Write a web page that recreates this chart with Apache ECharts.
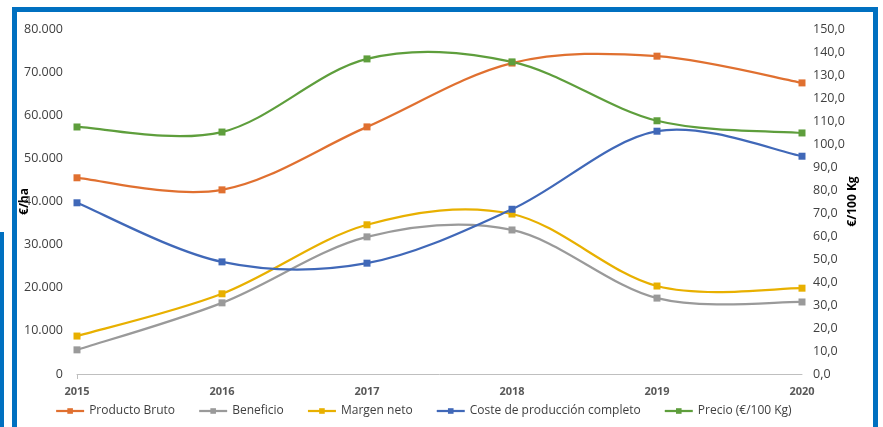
<!DOCTYPE html>
<html>
<head>
<meta charset="utf-8">
<script src="https://cdn.jsdelivr.net/npm/echarts@6/dist/echarts.min.js"></script>
<style>
html,body{margin:0;padding:0;background:#fff;}
#c{width:883px;height:427px;}
</style>
</head>
<body>
<div id="c"></div>
<script>
var years = ['2015','2016','2017','2018','2019','2020'];
var productoBruto = [45500, 42700, 57300, 72100, 73700, 67500];
var beneficio = [5600, 16500, 31800, 33400, 17600, 16700];
var margenNeto = [8800, 18600, 34600, 37100, 20400, 19900];
var costeProduccion = [39700, 26000, 25700, 38200, 56300, 50500];
var precio = [107.4, 105.2, 137.0, 135.7, 110.1, 104.8];

var FONT = 'Open Sans';
var chart = echarts.init(document.getElementById('c'), null, {renderer:'canvas'});

var defs = [
  {name: 'Producto Bruto', data: productoBruto, color: '#E07030', axis: 0},
  {name: 'Beneficio', data: beneficio, color: '#9A9A9A', axis: 0},
  {name: 'Margen neto', data: margenNeto, color: '#E8B000', axis: 0},
  {name: 'Coste de producción completo', data: costeProduccion, color: '#4068B8', axis: 0},
  {name: 'Precio (€/100 Kg)', data: precio, color: '#5E9E3C', axis: 1}
];

// Excel-style smoothed curve (Catmull-Rom Bezier segments), positions from the axes via api.coord
function curveSeries(d){
  var arr = d.data;
  return {
    name: d.name + '#curve', type: 'custom', yAxisIndex: d.axis, z: 2,
    silent: true,
    data: arr.map(function(v, i){ return [i, v]; }),
    encode: {x: 0, y: 1},
    renderItem: function(params, api){
      var i = params.dataIndex, n = arr.length;
      if (i >= n - 1) return null;
      var p = function(k){ k = Math.max(0, Math.min(n - 1, k)); return api.coord([k, arr[k]]); };
      var p0 = p(i - 1), p1 = p(i), p2 = p(i + 1), p3 = p(i + 2);
      return {
        type: 'bezierCurve',
        shape: {
          x1: p1[0], y1: p1[1], x2: p2[0], y2: p2[1],
          cpx1: p1[0] + (p2[0] - p0[0]) / 6, cpy1: p1[1] + (p2[1] - p0[1]) / 6,
          cpx2: p2[0] - (p3[0] - p1[0]) / 6, cpy2: p2[1] - (p3[1] - p1[1]) / 6
        },
        style: {stroke: d.color, lineWidth: 2.25, fill: null}
      };
    }
  };
}

function markerSeries(d){
  return {
    name: d.name, type: 'line', data: d.data, yAxisIndex: d.axis, z: 3,
    symbol: 'rect', symbolSize: 7, showSymbol: true,
    lineStyle: {color: d.color, width: 2.25, opacity: 0},
    itemStyle: {color: d.color},
    emphasis: {disabled: true}
  };
}

var series = [];
defs.forEach(function(d){ series.push(curveSeries(d)); });
defs.forEach(function(d){ series.push(markerSeries(d)); });

chart.setOption({
  animation: false,
  textStyle: {fontFamily: FONT},
  grid: {left: 77, right: 81, top: 29, bottom: 53, containLabel: false, outerBoundsMode: 'none'},
  xAxis: {
    type: 'category', data: years, boundaryGap: false,
    axisLine: {lineStyle: {color: '#bfbfbf', width: 1}},
    axisTick: {show: true, length: 5, interval: function(idx){ return idx === 0; }, lineStyle: {color: '#bfbfbf'}},
    axisLabel: {color: '#595959', fontWeight: 'bold', fontSize: 11, margin: 12, fontFamily: 'Liberation Sans Narrow, ' + FONT},
    splitLine: {show: false}
  },
  yAxis: [{
    type: 'value', min: 0, max: 80000, interval: 10000,
    name: '€/ha', nameLocation: 'middle', nameGap: 46, nameRotate: 90, nameMoveOverlap: false,
    nameTextStyle: {color: '#000', fontWeight: 'bold', fontSize: 12},
    axisLine: {show: false}, axisTick: {show: false}, splitLine: {show: false},
    axisLabel: {color: '#404040', fontSize: 12.5, margin: 14,
      formatter: function(v){ return v === 0 ? '0' : (v/1000) + '.000'; }}
  },{
    type: 'value', min: 0, max: 150, interval: 10,
    name: '€/100 Kg', nameLocation: 'middle', nameGap: 45, nameRotate: 90, nameMoveOverlap: false,
    nameTextStyle: {color: '#000', fontWeight: 'bold', fontSize: 12},
    axisLine: {show: false}, axisTick: {show: false}, splitLine: {show: false},
    axisLabel: {color: '#404040', fontSize: 12.5, margin: 11,
      formatter: function(v){ return v.toFixed(1).replace('.', ','); }}
  }],
  legend: {
    left: 55, top: 405, padding: 0, itemWidth: 28, itemHeight: 7, itemGap: 23,
    textStyle: {color: '#404040', fontSize: 12},
    data: defs.map(function(d){
      return {name: d.name, lineStyle: {color: d.color, width: 2.25, opacity: 1}, itemStyle: {color: d.color}};
    })
  },
  series: series,
  graphic: [
    {type: 'rect', shape: {x: 12, y: 7, width: 866, height: 5}, style: {fill: '#0070C0'}, silent: true},
    {type: 'rect', shape: {x: 12, y: 7, width: 5, height: 430}, style: {fill: '#0070C0'}, silent: true},
    {type: 'rect', shape: {x: 873, y: 7, width: 5, height: 430}, style: {fill: '#0070C0'}, silent: true},
    {type: 'rect', shape: {x: 0, y: 232, width: 4, height: 200}, style: {fill: '#0070C0'}, silent: true}
  ]
});
</script>
</body>
</html>
